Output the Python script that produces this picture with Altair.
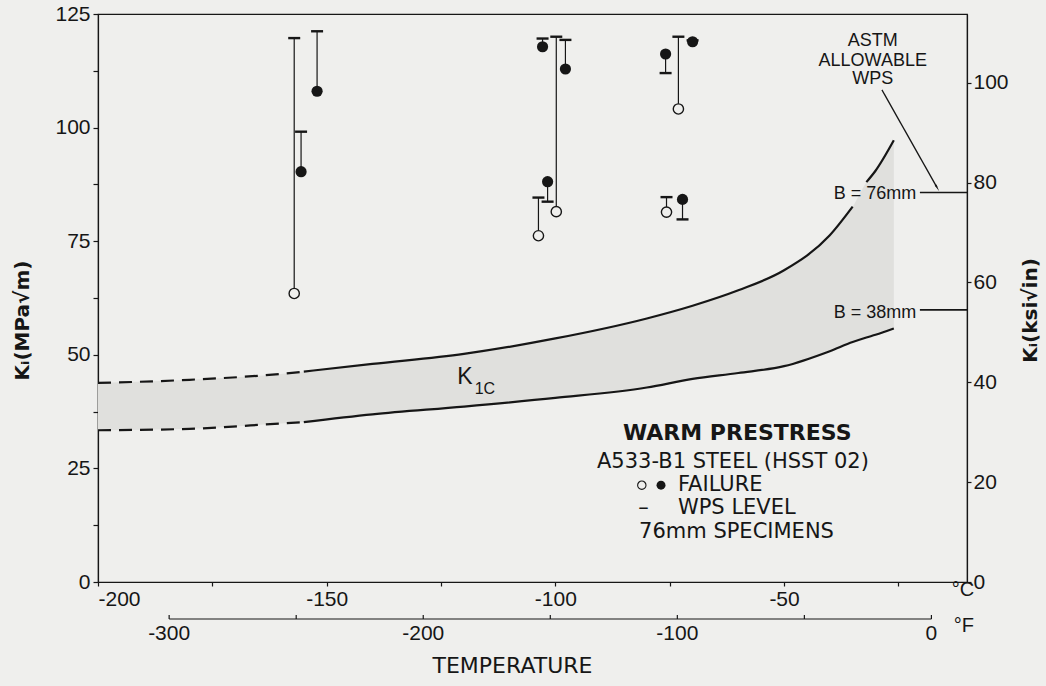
import altair as alt
import pandas as pd

# ---------------- data ----------------
# Warm-prestress tests, 76 mm specimens
test_temp_c = [-157.1, -155.6, -152.1, -103.7, -102.8, -101.7, -99.8, -97.8, -75.9, -75.7, -73.1, -72.2, -70.0]
k_failure = [63.5, 90.3, 108.0, 76.2, 117.8, 88.1, 81.5, 112.9, 116.2, 81.4, 104.1, 84.2, 118.9]
k_wps = [119.7, 99.1, 121.2, 84.6, 119.6, 83.7, 120.0, 119.3, 112.0, 84.7, 120.0, 79.8, 119.2]
failure_kind = ["open", "filled", "filled", "open", "filled", "filled", "open", "filled",
                "filled", "open", "open", "filled", "filled"]

# K1C scatter band
band_temp_c = [-200, -180, -160, -155, -140, -120, -100, -80, -70, -60, -50, -40, -35, -32, -30, -26]
k1c_upper = [43.8, 44.5, 45.8, 46.3, 48.0, 50.2, 53.6, 58.0, 60.8, 64.2, 68.6, 76.3, 82.6, 88.0, 90.5, 97.2]
k1c_lower = [33.4, 33.7, 34.9, 35.2, 36.9, 38.6, 40.5, 42.8, 44.7, 46.0, 47.5, 50.8, 52.8, 53.8, 54.4, 55.8]

# ASTM allowable WPS levels (ksi sqrt(in))
b_labels = ["B = 76mm", "B = 38mm"]
b_level_ksi = [78.0, 54.5]
b_label_ksi = [77.7, 53.9]

# axis ticks
c_ticks = [-200, -175, -150, -125, -100, -75, -50, -25]
f_ticks = [-300, -250, -200, -150, -100, -50, 0]
mpa_ticks = [0, 12.5, 25, 37.5, 50, 62.5, 75, 87.5, 100, 112.5, 125]
ksi_ticks = [0, 20, 40, 60, 80, 100]

# text annotations (temperature degC, K MPa sqrt(m))
legend_lines = ["A533-B1 STEEL (HSST 02)", "FAILURE", "–", "WPS LEVEL", "76mm SPECIMENS"]
legend_T = [-90.9, -73.2, -81.9, -73.2, -81.7]
legend_k = [26.5, 21.3, 16.3, 16.3, 11.0]
legend_sym_T = [-81.1, -76.9]
legend_sym_k = [21.3, 21.3]
legend_sym_kind = ["open", "filled"]
astm_lines = ["ASTM", "ALLOWABLE", "WPS"]
astm_T = [-30.6, -30.6, -30.6]
astm_k = [119.1, 114.7, 110.7]

W, H = 869, 568
INK = "#161616"
BG = "#efefed"
FONT = "Liberation Sans"

xs = alt.Scale(domain=[-200, -10], nice=False, zero=False)
ys = alt.Scale(domain=[0, 125], nice=False, zero=True)
ks = alt.Scale(domain=[0, 125 / 1.0988], nice=False, zero=True)

ax_c = alt.Axis(values=c_ticks, labelExpr="datum.value % 50 === 0 ? '' + datum.value : ''",
                tickSize=4, labelPadding=2, labelFlush=True, grid=False,
                title="TEMPERATURE", titleX=414, titleY=83, titleBaseline="middle",
                titleFont="DejaVu Sans", titleFontSize=22, titleFontWeight="normal")
ax_m = alt.Axis(orient="left", values=mpa_ticks,
                labelExpr="datum.value % 25 === 0 ? '' + datum.value : ''",
                tickSize=5, labelPadding=3, grid=False,
                title="Kᵢ(MPa√m)", titleX=-66, titleY=306, titleAngle=270,
                titleFont="DejaVu Sans", titleFontSize=20, titleFontWeight="bold")
ax_k = alt.Axis(orient="right", values=ksi_ticks, labelExpr="'' + datum.value",
                tickSize=4, labelPadding=2, grid=False,
                title="Kᵢ(ksi√in)", titleX=73, titleY=296, titleAngle=270,
                titleFont="DejaVu Sans", titleFontSize=20, titleFontWeight="bold")


def X(field="T"):
    return alt.X(f"{field}:Q", scale=xs, axis=ax_c)


def YM(field):
    return alt.Y(f"{field}:Q", scale=ys, axis=ax_m)


band_df = pd.DataFrame({"T": band_temp_c, "upper": k1c_upper, "lower": k1c_lower})
tests_df = pd.DataFrame({"T": test_temp_c, "k": k_failure, "wps": k_wps, "kind": failure_kind})

band = alt.Chart(band_df).mark_area(color="#e0e0dd", interpolate="monotone").encode(
    x=X(), y=YM("upper"), y2="lower")


def curve(field, filt, dashed=False):
    kw = dict(color=INK, strokeWidth=2.2, interpolate="monotone")
    if dashed:
        kw["strokeDash"] = [13, 8]
    return alt.Chart(band_df).transform_filter(filt).mark_line(**kw).encode(x=X(), y=YM(field))


curves = [
    curve("upper", "datum.T <= -155", True),
    curve("lower", "datum.T <= -155", True),
    curve("upper", "datum.T >= -155 && datum.T <= -35"),
    curve("upper", "datum.T >= -32"),
    curve("lower", "datum.T >= -155"),
]

stems = alt.Chart(tests_df).mark_rule(color=INK, strokeWidth=1.2).encode(
    x=X(), y=YM("k"), y2="wps")
wps_ticks = alt.Chart(tests_df).mark_tick(orient="horizontal", color=INK, size=12,
                                          thickness=2.4, opacity=1).encode(x=X(), y=YM("wps"))
filled_pts = alt.Chart(tests_df).transform_filter("datum.kind === 'filled'").mark_circle(
    size=125, color=INK, opacity=1).encode(x=X(), y=YM("k"))
open_pts = alt.Chart(tests_df).transform_filter("datum.kind === 'open'").mark_circle(
    size=105, fill=BG, stroke=INK, strokeWidth=1.4, opacity=1).encode(x=X(), y=YM("k"))

# legend block
leg_df = pd.DataFrame({"T": legend_T, "k": legend_k, "label": legend_lines})
leg_text = alt.Chart(leg_df).mark_text(align="left", baseline="middle", font="DejaVu Sans",
                                       fontSize=21, color=INK).encode(x=X(), y=YM("k"), text="label:N")
leg_title = alt.Chart(pd.DataFrame({"T": [-85.2], "k": [32.8], "label": ["WARM PRESTRESS"]})).mark_text(
    align="left", baseline="middle", font="DejaVu Sans", fontSize=22, fontWeight="bold",
    color=INK).encode(x=X(), y=YM("k"), text="label:N")
sym_df = pd.DataFrame({"T": legend_sym_T, "k": legend_sym_k, "kind": legend_sym_kind})
sym_open = alt.Chart(sym_df).transform_filter("datum.kind === 'open'").mark_circle(
    size=70, fill=BG, stroke=INK, strokeWidth=1.1, opacity=1).encode(x=X(), y=YM("k"))
sym_filled = alt.Chart(sym_df).transform_filter("datum.kind === 'filled'").mark_circle(
    size=80, color=INK, opacity=1).encode(x=X(), y=YM("k"))

# ASTM annotation + arrow
astm_df = pd.DataFrame({"T": astm_T, "k": astm_k, "label": astm_lines})
astm_text = alt.Chart(astm_df).mark_text(align="center", baseline="middle", font=FONT,
                                         fontSize=18, color=INK).encode(x=X(), y=YM("k"), text="label:N")
arrow_df = pd.DataFrame({"T1": [-28.6], "k1": [108.3], "T2": [-16.6], "k2": [86.9]})
arrow_line = alt.Chart(arrow_df).mark_rule(color=INK, strokeWidth=1.3).encode(
    x=X("T1"), y=YM("k1"), x2="T2", y2="k2")
arrow_head = alt.Chart(arrow_df).mark_point(shape="wedge", angle=150, size=70, filled=True,
                                            color=INK, opacity=1).encode(x=X("T2"), y=YM("k2"))

# K1C label
k_lab = alt.Chart(pd.DataFrame({"T": [-119.8], "k": [45.1], "label": ["K"]})).mark_text(
    font=FONT, fontSize=23, color=INK, baseline="middle").encode(x=X(), y=YM("k"), text="label:N")
k_sub = alt.Chart(pd.DataFrame({"T": [-115.4], "k": [42.5], "label": ["1C"]})).mark_text(
    font=FONT, fontSize=16, color=INK, baseline="middle").encode(x=X(), y=YM("k"), text="label:N")

# unit marks
unit_df = pd.DataFrame({"T": [-10.9, -10.7], "k": [-1.8, -9.7], "label": ["°C", "°F"]})
unit_text = alt.Chart(unit_df).mark_text(font=FONT, fontSize=20, color=INK, baseline="middle").encode(
    x=X(), y=YM("k"), text="label:N")

# secondary Fahrenheit axis (drawn in the Celsius scale)
f_df = pd.DataFrame({"F": f_ticks})
f_line = alt.Chart(pd.DataFrame({"F1": [min(f_ticks)], "F2": [max(f_ticks)]})).transform_calculate(
    T1="(datum.F1 - 32) * 5 / 9", T2="(datum.F2 - 32) * 5 / 9").mark_rule(
    color=INK, strokeWidth=1.2).encode(x=X("T1"), x2="T2", y=alt.value(H + 37))
f_tick_marks = alt.Chart(f_df).transform_calculate(T="(datum.F - 32) * 5 / 9").mark_rule(
    color=INK, strokeWidth=1.2).encode(x=X(), y=alt.value(H + 37), y2=alt.value(H + 33))
f_labels = alt.Chart(f_df).transform_filter("datum.F % 100 === 0").transform_calculate(
    T="(datum.F - 32) * 5 / 9", label="'' + datum.F").mark_text(
    font=FONT, fontSize=21, color=INK, baseline="middle").encode(
    x=X(), y=alt.value(H + 52), text="label:N")

mpa_layer = alt.layer(band, *curves, stems, open_pts, filled_pts, wps_ticks,
                      leg_title, leg_text, sym_open, sym_filled, astm_text, arrow_line, arrow_head,
                      k_lab, k_sub, unit_text, f_line, f_tick_marks, f_labels)

# ksi layer (right axis): ASTM allowable WPS levels
b_df = pd.DataFrame({"label": b_labels, "ksi": b_level_ksi, "lab_ksi": b_label_ksi,
                     "T1": [-20.3, -20.3], "T2": [-10, -10], "TL": [-30.1, -30.1]})
b_rules = alt.Chart(b_df).mark_rule(color=INK, strokeWidth=1.6).encode(
    x=X("T1"), x2="T2", y=alt.Y("ksi:Q", scale=ks, axis=ax_k))
b_text = alt.Chart(b_df).mark_text(font=FONT, fontSize=18, color=INK, baseline="middle").encode(
    x=X("TL"), y=alt.Y("lab_ksi:Q", scale=ks, axis=ax_k), text="label:N")
ksi_layer = alt.layer(b_rules, b_text)

chart = alt.layer(mpa_layer, ksi_layer).resolve_scale(y="independent").properties(
    width=W, height=H, background=BG,
    autosize=alt.AutoSizeParams(type="none"),
    padding={"left": 98, "top": 14, "right": 79, "bottom": 104},
).configure_view(stroke=INK, strokeWidth=1.2).configure_axis(
    labelFont=FONT, labelFontSize=21, labelColor=INK, tickColor=INK, domainColor=INK,
    domainWidth=1.2, tickWidth=1.2, titleColor=INK)

chart.save("out.html", embed_options={"renderer": "svg", "actions": False})
